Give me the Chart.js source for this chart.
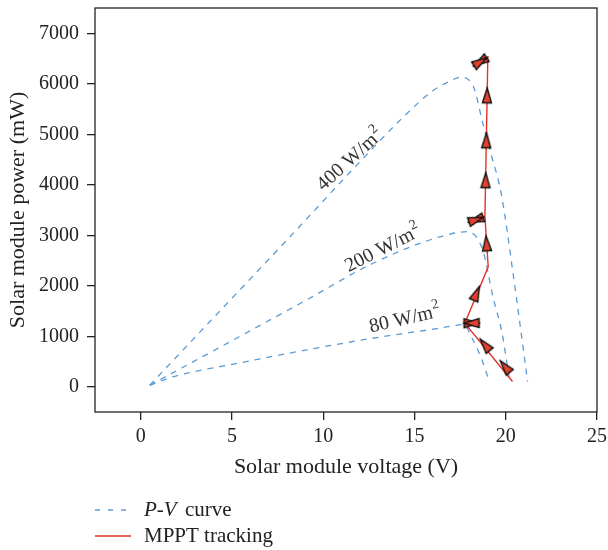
<!DOCTYPE html>
<html>
<head>
<meta charset="utf-8">
<script src="https://cdn.jsdelivr.net/npm/chart.js@4.4.1/dist/chart.umd.min.js"></script>
<style>
  html, body { margin: 0; padding: 0; background: #fff; }
</style>
</head>
<body>
<canvas id="chart" width="608" height="550"></canvas>
<script>
// P-V curves (voltage in V, power in mW)
const pv400V = [0.5, 4, 8, 12, 14.5, 16, 17, 17.5, 18.2, 18.75, 19.2, 19.75, 20.4, 21.2];
const pv400P = [30, 1370, 2900, 4450, 5380, 5860, 6060, 6130, 5970, 5210, 4600, 3830, 2250, 100];
const pv200V = [0.5, 5.4, 9.1, 12.7, 16.4, 17.9, 18.75, 19.3, 19.8, 20.2];
const pv200P = [30, 990, 1720, 2440, 2970, 3070, 2700, 1780, 1060, 150];
const pv80V = [0.5, 1.8, 5.4, 9.1, 12.7, 16.4, 17.7, 18.2, 18.7, 19.1];
const pv80P = [30, 200, 470, 730, 960, 1160, 1230, 930, 530, 100];

// MPPT tracking path
const mpptV = [20.37, 17.76, 18.5, 17.76, 19.04, 18.86, 17.9, 18.86, 19.02, 18.2, 19.02];
const mpptP = [105, 1257, 1262, 1257, 2375, 3366, 3250, 3366, 6530, 6340, 6530];

// arrow heads along the path (which step of the path each belongs to)
const arrowV = [19.96, 18.86, 18.13, 18.13, 18.4, 18.95, 18.38, 18.38, 18.9, 18.94, 18.98, 18.61, 18.61];
const arrowP = [400, 830, 1259, 1259, 1850, 2840, 3308, 3308, 4090, 4880, 5770, 6435, 6435];
const arrowSeg = [0, 0, 1, 2, 3, 4, 5, 6, 7, 7, 7, 8, 9];

const xTicks = [0, 5, 10, 15, 20, 25];
const yTicks = [0, 1000, 2000, 3000, 4000, 5000, 6000, 7000];

const curveNames = ['400', '200', '80'];
const legendLabels = ['P-V curve', 'MPPT tracking'];

const FONT = "'Liberation Serif', 'DejaVu Serif', serif";
const BLUE = '#5b9bd5';
const RED = '#e5322a';

function pts(xs, ys) {
    return xs.map((x, i) => ({ x: x, y: ys[i] }));
}

function makeArrow() {
    const c = document.createElement('canvas');
    c.width = 12;
    c.height = 18;
    const g = c.getContext('2d');
    g.beginPath();
    g.moveTo(6, 1.5);
    g.lineTo(10.5, 16.5);
    g.lineTo(1.5, 16.5);
    g.closePath();
    g.fillStyle = '#e2412e';
    g.fill();
    g.lineWidth = 1.4;
    g.strokeStyle = '#111';
    g.stroke();
    return c;
}
const arrowImg = makeArrow();

// where the irradiance labels sit (data units) and their tilt
const curveLabelPos = [
    { v: 11.45, p: 4500, angle: -42 },
    { v: 13.25, p: 2740, angle: -27 },
    { v: 14.45, p: 1350, angle: -13 }
];

const framePlugin = {
    id: 'frame',
    afterDraw(chart) {
        const { ctx, chartArea: a, scales } = chart;
        ctx.save();
        ctx.strokeStyle = '#222';
        ctx.lineWidth = 1.3;
        ctx.strokeRect(a.left, a.top, a.right - a.left, a.bottom - a.top);

        // axis titles
        ctx.fillStyle = '#222';
        ctx.font = '22px ' + FONT;
        ctx.textAlign = 'center';
        ctx.textBaseline = 'middle';
        ctx.fillText('Solar module voltage (V)', (a.left + a.right) / 2, 467);
        ctx.save();
        ctx.translate(18, (a.top + a.bottom) / 2);
        ctx.rotate(-Math.PI / 2);
        ctx.fillText('Solar module power (mW)', 0, 0);
        ctx.restore();

        // irradiance labels
        curveNames.forEach((name, i) => {
            const pos = curveLabelPos[i];
            const px = scales.x.getPixelForValue(pos.v);
            const py = scales.y.getPixelForValue(pos.p);
            const main = name + ' W/m';
            ctx.save();
            ctx.translate(px, py);
            ctx.rotate(pos.angle * Math.PI / 180);
            ctx.font = '20px ' + FONT;
            const w1 = ctx.measureText(main).width;
            ctx.font = '14px ' + FONT;
            const w2 = ctx.measureText('2').width;
            const x0 = -(w1 + w2) / 2;
            ctx.fillStyle = '#333';
            ctx.textAlign = 'left';
            ctx.textBaseline = 'alphabetic';
            ctx.font = '20px ' + FONT;
            ctx.fillText(main, x0, 6);
            ctx.font = '14px ' + FONT;
            ctx.fillText('2', x0 + w1 + 0.5, -3);
            ctx.restore();
        });

        // legend
        const rows = [
            { y: 510, color: BLUE, dash: [5, 8], italic: true },
            { y: 536, color: RED, dash: [], italic: false }
        ];
        rows.forEach((r, i) => {
            ctx.beginPath();
            ctx.setLineDash(r.dash);
            ctx.strokeStyle = r.color;
            ctx.lineWidth = 1.4;
            ctx.moveTo(95, r.y);
            ctx.lineTo(131, r.y);
            ctx.stroke();
            ctx.setLineDash([]);
            ctx.fillStyle = '#222';
            ctx.textAlign = 'left';
            ctx.textBaseline = 'middle';
            if (r.italic) {
                const parts = legendLabels[i].split(' ');
                ctx.font = 'italic 21px ' + FONT;
                ctx.fillText(parts[0], 144, r.y);
                const w = ctx.measureText(parts[0] + ' ').width;
                ctx.font = '21px ' + FONT;
                ctx.fillText(parts.slice(1).join(' '), 144 + w + 3, r.y);
            } else {
                ctx.font = '21px ' + FONT;
                ctx.fillText(legendLabels[i], 144, r.y);
            }
        });
        ctx.restore();
    }
};

const dashed = { borderColor: BLUE, borderWidth: 1.3, borderDash: [6, 6], pointRadius: 0, showLine: true, fill: false, cubicInterpolationMode: 'monotone' };

new Chart(document.getElementById('chart'), {
    type: 'scatter',
    data: {
        datasets: [
            {
                label: 'arrows',
                data: pts(arrowV, arrowP),
                pointStyle: arrowImg,
                pointRadius: 6,
                showLine: false,
                pointRotation: (c) => {
                    const i = c.dataIndex;
                    if (i === undefined) return 0;
                    const s = arrowSeg[i];
                    const xs = c.chart.scales.x, ys = c.chart.scales.y;
                    const dx = xs.getPixelForValue(mpptV[s + 1]) - xs.getPixelForValue(mpptV[s]);
                    const dy = ys.getPixelForValue(mpptP[s + 1]) - ys.getPixelForValue(mpptP[s]);
                    return Math.atan2(dy, dx) * 180 / Math.PI + 90;
                }
            },
            { label: legendLabels[1], data: pts(mpptV, mpptP), borderColor: RED, borderWidth: 1.4, pointRadius: 0, showLine: true, tension: 0 },
            Object.assign({ label: '400', data: pts(pv400V, pv400P) }, dashed),
            Object.assign({ label: '200', data: pts(pv200V, pv200P) }, dashed),
            Object.assign({ label: '80', data: pts(pv80V, pv80P) }, dashed)
        ]
    },
    options: {
        responsive: false,
        animation: false,
        events: [],
        layout: { padding: { top: 8, right: 11, left: 0, bottom: 0 } },
        plugins: { legend: { display: false }, tooltip: { enabled: false } },
        scales: {
            x: {
                type: 'linear',
                min: -2.5,
                max: 25,
                afterBuildTicks: s => { s.ticks = xTicks.map(v => ({ value: v })); },
                afterFit: s => { s.height = 138; s.paddingLeft = 0; s.paddingRight = 0; },
                grid: { drawOnChartArea: false, drawTicks: true, tickLength: 8, color: '#222', lineWidth: 1.3 },
                border: { display: false },
                ticks: { font: { family: FONT, size: 20 }, color: '#222', padding: 5, maxRotation: 0 }
            },
            y: {
                type: 'linear',
                min: -500,
                max: 7500,
                afterBuildTicks: s => { s.ticks = yTicks.map(v => ({ value: v })); },
                afterFit: s => { s.width = 95; s.paddingTop = 0; s.paddingBottom = 0; },
                grid: { drawOnChartArea: false, drawTicks: true, tickLength: 8, color: '#222', lineWidth: 1.3 },
                border: { display: false },
                ticks: { font: { family: FONT, size: 20 }, color: '#222', padding: 8, callback: v => String(v) }
            }
        }
    },
    plugins: [framePlugin]
});
</script>
</body>
</html>
